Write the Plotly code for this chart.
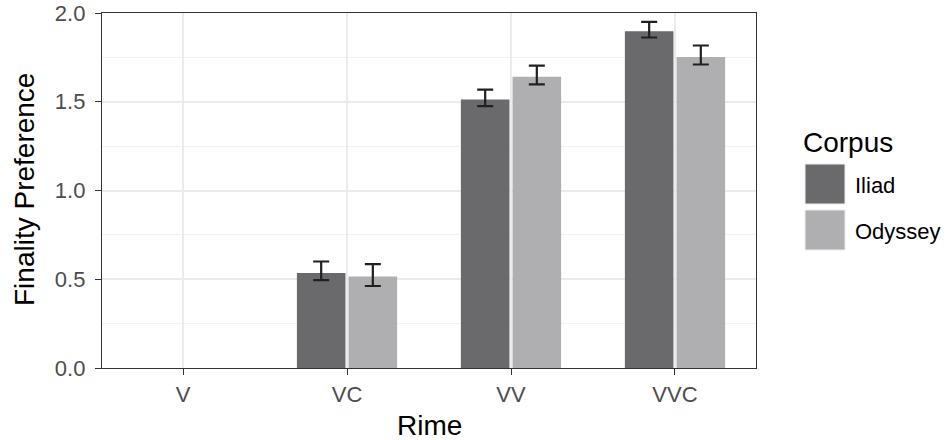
import plotly.graph_objects as go

categories = ["V", "VC", "VV", "VVC"]
corpora = ["Iliad", "Odyssey"]
# V has no bar in the reference (no data)
iliad_vals = [None, 0.535, 1.512, 1.897]
iliad_hi = [None, 0.600, 1.568, 1.950]
iliad_lo = [None, 0.495, 1.475, 1.862]
odyssey_vals = [None, 0.515, 1.641, 1.752]
odyssey_hi = [None, 0.585, 1.703, 1.817]
odyssey_lo = [None, 0.462, 1.598, 1.710]
colors = ["#6a6a6c", "#afafb1"]

W, H = 947, 440
L, R, T, B = 102, 191, 13, 72
PW, PH = W - L - R, H - T - B

fig = go.Figure()
series = [(iliad_vals, iliad_hi, iliad_lo), (odyssey_vals, odyssey_hi, odyssey_lo)]
for name, (vals, hi, lo), col in zip(corpora, series, colors):
    ep = [None if v is None else h - v for v, h in zip(vals, hi)]
    em = [None if v is None else v - l for v, l in zip(vals, lo)]
    fig.add_trace(go.Bar(
        x=categories, y=vals, name=name, marker=dict(color=col, line=dict(width=0)),
        error_y=dict(type="data", symmetric=False, array=ep, arrayminus=em,
                     color="#231f20", thickness=2.2, width=8),
        showlegend=False,
    ))

fig.update_layout(
    width=W, height=H,
    margin=dict(l=L, r=R, t=T, b=B, autoexpand=False),
    paper_bgcolor="white", plot_bgcolor="white",
    barmode="group", bargap=0.37, bargroupgap=0.06,
    font=dict(family="Liberation Sans, Arial, sans-serif"),
    xaxis=dict(
        type="category", categoryorder="array", categoryarray=categories,
        range=[-0.494, 3.494], automargin=False,
        showline=True, mirror=True, linecolor="#333333", linewidth=1.3,
        ticks="outside", ticklen=6, tickcolor="#333333", tickwidth=1.3,
        showgrid=True, gridcolor="#ebebeb", gridwidth=1.5,
        tickfont=dict(size=22, color="#4d4d4d"),
        zeroline=False,
    ),
    yaxis=dict(
        range=[0, 2.0], tickvals=[0, 0.5, 1.0, 1.5, 2.0],
        ticktext=["0.0", "0.5", "1.0", "1.5", "2.0"], automargin=False,
        showline=True, mirror=True, linecolor="#333333", linewidth=1.3,
        ticks="outside", ticklen=6, tickcolor="#333333", tickwidth=1.3,
        ticklabelstandoff=5,
        showgrid=True, gridcolor="#ebebeb", gridwidth=1.5,
        minor=dict(dtick=0.25, showgrid=True, gridcolor="#f2f2f2", gridwidth=0.8),
        tickfont=dict(size=22, color="#4d4d4d"),
        zeroline=False,
    ),
)

# paper coords map to the plot area; helpers convert from pixel positions
def px_x(x):
    return (x - L) / PW
def px_y(y):
    return (H - B - y) / PH

# Axis titles
fig.add_annotation(xref="paper", yref="paper", x=px_x(429), y=px_y(425),
                   text="Rime", showarrow=False, xanchor="center", yanchor="middle",
                   font=dict(size=28, color="#000000"))
fig.add_annotation(xref="paper", yref="paper", x=px_x(24), y=px_y(190),
                   text="Finality Preference", showarrow=False, textangle=-90,
                   xanchor="center", yanchor="middle",
                   font=dict(size=28, color="#000000"))

# Legend drawn manually (large keys as in the reference)
fig.add_annotation(xref="paper", yref="paper", x=px_x(801), y=px_y(142),
                   text="Corpus", showarrow=False, xanchor="left", yanchor="middle",
                   font=dict(size=28, color="#000000"))
key_tops = [164, 210]
for name, col, top in zip(corpora, colors, key_tops):
    fig.add_shape(type="rect", xref="paper", yref="paper",
                  x0=px_x(805), x1=px_x(845), y0=px_y(top), y1=px_y(top + 40),
                  fillcolor=col, line=dict(color="#ededed", width=1))
    fig.add_annotation(xref="paper", yref="paper", x=px_x(853), y=px_y(top + 21),
                       text=name, showarrow=False, xanchor="left", yanchor="middle",
                       font=dict(size=22, color="#000000"))

fig.write_html("out.html")
